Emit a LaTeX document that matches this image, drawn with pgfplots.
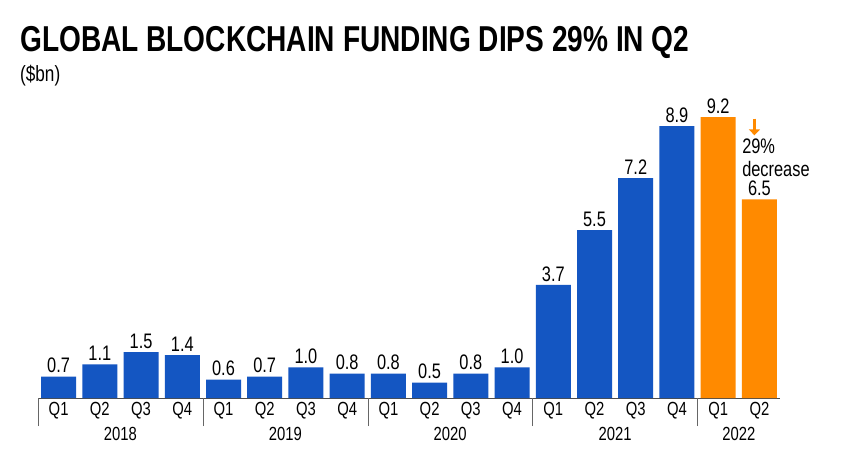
\documentclass[border=0pt]{standalone}
\usepackage{pgfplots}
\pgfplotsset{compat=1.18}
\usetikzlibrary{arrows.meta}
\usepackage{fontspec}
\setmainfont{Liberation Sans}
\newfontfamily\cond[FakeStretch=0.78]{Liberation Sans}
\definecolor{bblue}{HTML}{1456C2}
\definecolor{borange}{HTML}{FF8A00}
\begin{document}
\begin{tikzpicture}
\path[fill=white] (0pt,0pt) rectangle (860pt,464pt);
\node[anchor=base west,inner sep=0,font=\cond\bfseries\fontsize{36}{36}\selectfont] at (20pt,412pt) {GLOBAL BLOCKCHAIN FUNDING DIPS 29\% IN Q2};
\node[anchor=base west,inner sep=0,font=\cond\fontsize{22}{22}\selectfont] at (20pt,382pt) {(\$bn)};
\begin{axis}[at={(38pt,66pt)},anchor=south west,scale only axis,width=742pt,height=281pt,
  xmin=-0.5,xmax=17.5,ymin=0,ymax=9.2,
  axis y line=none, axis x line*=bottom, x axis line style={black!70,-},
  ybar,bar width=35pt,bar shift=0pt,
  xtick={0,...,17},xticklabels={Q1,Q2,Q3,Q4,Q1,Q2,Q3,Q4,Q1,Q2,Q3,Q4,Q1,Q2,Q3,Q4,Q1,Q2},
  major tick length=0pt,
  extra x ticks={-0.5,3.5,7.5,11.5,15.5},extra x tick labels={},
  extra x tick style={major tick length=28pt,tick style={black!60,thin},tick align=outside},
  xticklabel style={font=\cond\fontsize{19}{19}\selectfont,yshift=-1pt},
  nodes near coords={\pgfmathprintnumber[fixed,precision=1,fixed zerofill,assume math mode=true]{\pgfplotspointmeta}},
  every node near coord/.append style={font=\cond\fontsize{21}{21}\selectfont,black},
  clip=false]
\addplot[fill=bblue,draw=none] coordinates {(0,0.7)(1,1.1)(2,1.5)(3,1.4)(4,0.6)(5,0.7)(6,1.0)(7,0.8)(8,0.8)(9,0.5)(10,0.8)(11,1.0)(12,3.7)(13,5.5)(14,7.2)(15,8.9)};
\addplot[fill=borange,draw=none] coordinates {(16,9.2)(17,6.5)};
\node[font=\cond\fontsize{19}{19}\selectfont,anchor=base,yshift=-42pt] at (axis cs:1.5,0) {2018};
\node[font=\cond\fontsize{19}{19}\selectfont,anchor=base,yshift=-42pt] at (axis cs:5.5,0) {2019};
\node[font=\cond\fontsize{19}{19}\selectfont,anchor=base,yshift=-42pt] at (axis cs:9.5,0) {2020};
\node[font=\cond\fontsize{19}{19}\selectfont,anchor=base,yshift=-42pt] at (axis cs:13.5,0) {2021};
\node[font=\cond\fontsize{19}{19}\selectfont,anchor=base,yshift=-42pt] at (axis cs:16.5,0) {2022};
\node[font=\cond\fontsize{21}{21}\selectfont,anchor=base west,inner sep=0] at (axis cs:16.58,8.0) {29\%};
\node[font=\cond\fontsize{21}{21}\selectfont,anchor=base west,inner sep=0] at (axis cs:16.58,7.25) {decrease};
\draw[borange,line width=3pt,-{Triangle[length=6pt,width=11pt]}] (axis cs:16.88,9.15) -- (axis cs:16.88,8.6);
\end{axis}
\end{tikzpicture}
\end{document}
